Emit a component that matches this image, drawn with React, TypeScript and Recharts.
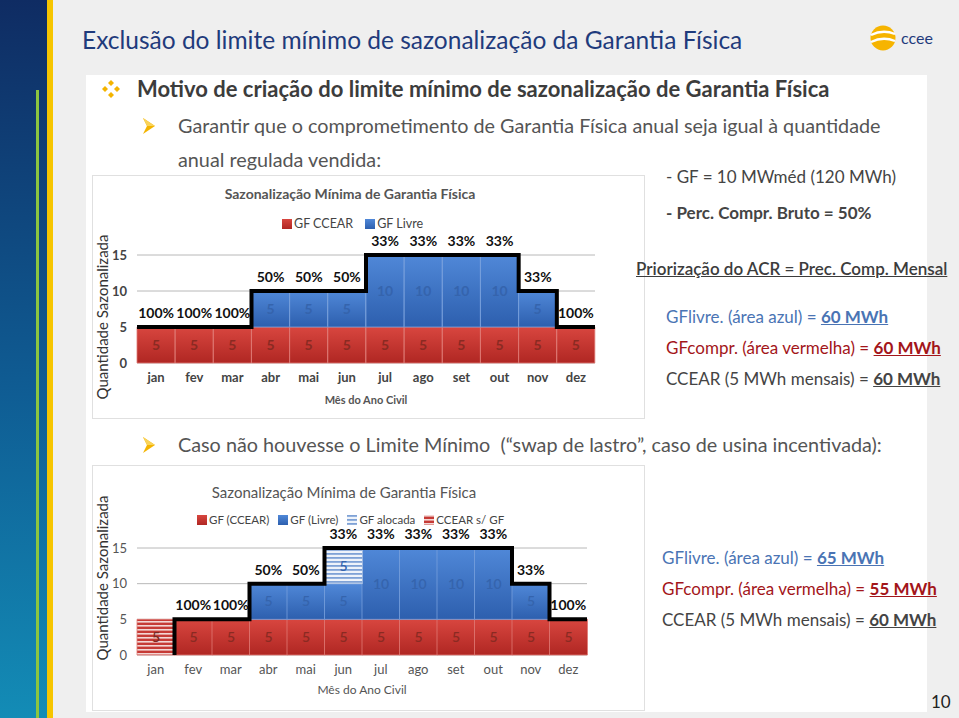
import React from 'react'
import { ComposedChart, Bar, Line, XAxis, YAxis, CartesianGrid, LabelList, Legend } from 'recharts'

const MONTHS = ['jan', 'fev', 'mar', 'abr', 'mai', 'jun', 'jul', 'ago', 'set', 'out', 'nov', 'dez']
const Y_TICKS = [0, 5, 10, 15]

// chart 1: com limite mínimo
const CCEAR_1 = [5, 5, 5, 5, 5, 5, 5, 5, 5, 5, 5, 5]
const LIVRE_1 = [0, 0, 0, 5, 5, 5, 10, 10, 10, 10, 5, 0]
const PCT_1 = ['100%', '100%', '100%', '50%', '50%', '50%', '33%', '33%', '33%', '33%', '33%', '100%']

// chart 2: sem o limite mínimo
const CCEAR_2 = [0, 5, 5, 5, 5, 5, 5, 5, 5, 5, 5, 5]
const LIVRE_2 = [0, 0, 0, 5, 5, 5, 10, 10, 10, 10, 5, 0]
const ALOCADA_2 = [0, 0, 0, 0, 0, 5, 0, 0, 0, 0, 0, 0]
const SEM_GF_2 = [5, 0, 0, 0, 0, 0, 0, 0, 0, 0, 0, 0]
const PCT_2 = ['', '100%', '100%', '50%', '50%', '33%', '33%', '33%', '33%', '33%', '33%', '100%']

const FONT = 'Lato, "Open Sans", sans-serif'

const rows1 = MONTHS.map((m, i) => ({
  month: m,
  ccear: CCEAR_1[i],
  livre: LIVRE_1[i],
  top: CCEAR_1[i] + LIVRE_1[i],
  pct: PCT_1[i],
}))

const rows2 = MONTHS.map((m, i) => ({
  month: m,
  ccear: CCEAR_2[i],
  livre: LIVRE_2[i],
  alocada: ALOCADA_2[i],
  semGf: SEM_GF_2[i],
  top: CCEAR_2[i] + LIVRE_2[i] + ALOCADA_2[i],
  pct: PCT_2[i],
}))

// step outline: points at the right edge of every month (stepBefore),
// starting at the left edge only when the first month has committed GF
function stepPoints(totals: number[]) {
  const pts = totals.map((v, i) => ({ x: i + 1, v }))
  return totals[0] > 0 ? [{ x: 0, v: totals[0] }, ...pts] : pts
}
const step1 = stepPoints(rows1.map((r) => r.top))
const step2 = stepPoints(rows2.map((r) => r.top))

const hideZero = (v: any) => (v ? v : '')

function T({ x, y, size = 17, children, style }: any) {
  return (
    <div
      style={{
        position: 'absolute',
        left: x,
        top: y - size / 2 - 1,
        fontSize: size,
        lineHeight: `${size + 2}px`,
        whiteSpace: 'nowrap',
        fontFamily: FONT,
        color: '#444',
        ...style,
      }}
    >
      {children}
    </div>
  )
}

function Arrow({ x, y }: { x: number; y: number }) {
  return (
    <svg style={{ position: 'absolute', left: x, top: y - 8 }} width={12} height={16}>
      <polygon points="0,0 12,8 0,16 4,8" fill="#f4b400" />
      <polygon points="0,0 12,8 4,8" fill="#f9d35a" />
    </svg>
  )
}

function LegendBox({ payload, order, fontSize, gap }: any) {
  const items = (payload || [])
    .filter((p: any) => p.type !== 'none')
    .sort((a: any, b: any) => order.indexOf(a.value) - order.indexOf(b.value))
  return (
    <div style={{ display: 'flex', gap, fontFamily: FONT, fontSize, color: '#444', whiteSpace: 'nowrap' }}>
      {items.map((p: any) => (
        <span key={p.value} style={{ display: 'flex', alignItems: 'center', gap: 2 }}>
          <svg width={10} height={10}>
            <rect width={10} height={10} fill={p.color} />
          </svg>
          {p.value}
        </span>
      ))}
    </div>
  )
}

function Defs({ p }: { p: string }) {
  return (
    <defs>
      <linearGradient id={`${p}red`} x1="0" y1="0" x2="0" y2="1">
        <stop offset="0%" stopColor="#d8463f" />
        <stop offset="100%" stopColor="#b02723" />
      </linearGradient>
      <linearGradient id={`${p}blue`} x1="0" y1="0" x2="0" y2="1">
        <stop offset="0%" stopColor="#5088d8" />
        <stop offset="100%" stopColor="#2d5fae" />
      </linearGradient>
      <pattern id={`${p}redHatch`} width={6} height={4} patternUnits="userSpaceOnUse">
        <rect width={6} height={4} fill="#c63a35" />
        <rect y={0} width={6} height={1.6} fill="#f3d6d4" />
      </pattern>
      <pattern id={`${p}blueHatch`} width={6} height={4} patternUnits="userSpaceOnUse">
        <rect width={6} height={4} fill="#eef3fa" />
        <rect y={0} width={6} height={1.8} fill="#7fa2d6" />
      </pattern>
    </defs>
  )
}

const boldTick = { fontSize: 13, fontWeight: 700, fill: '#444', fontFamily: FONT }
const plainTick = { fontSize: 13, fill: '#555', fontFamily: FONT }

const ORDER_1 = ['GF CCEAR', 'GF Livre']
const ORDER_2 = ['GF (CCEAR)', 'GF (Livre)', 'GF alocada', 'CCEAR s/ GF']

function Chart1() {
  return (
    <ComposedChart
      width={553}
      height={244}
      data={rows1}
      margin={{ top: 65, right: 50, bottom: 26, left: 5 }}
      barCategoryGap={0}
      barGap={0}
    >
      <Defs p="c1" />
      <CartesianGrid vertical={false} stroke="#b8b8b8" />
      <XAxis dataKey="month" axisLine={false} tickLine={false} tickSize={0} tickMargin={10} height={30} tick={boldTick} interval={0} />
      <XAxis xAxisId="step" type="number" dataKey="x" domain={[0, 12]} hide />
      <YAxis domain={[0, 15]} ticks={Y_TICKS} axisLine={false} tickLine={false} tickSize={0} tickMargin={10} width={40} tick={boldTick} />
      <Legend
        verticalAlign="top"
        content={(props: any) => <LegendBox {...props} order={ORDER_1} fontSize={12.5} gap={12} />}
        wrapperStyle={{ top: 41, left: 190, width: 'auto' }}
      />
      <Bar dataKey="ccear" name="GF CCEAR" stackId="a" fill="url(#c1red)" stroke="#e07a75" strokeWidth={0.8} isAnimationActive={false}>
        <LabelList dataKey="ccear" position="center" formatter={hideZero} fill="#8a2a22" fontSize={14} fontWeight={700} fontFamily={FONT} />
      </Bar>
      <Bar dataKey="livre" name="GF Livre" stackId="a" fill="url(#c1blue)" stroke="#77a0dc" strokeWidth={0.8} isAnimationActive={false}>
        <LabelList dataKey="livre" position="center" formatter={hideZero} fill="#3564ad" fontSize={14} fontWeight={700} fontFamily={FONT} />
      </Bar>
      <Line xAxisId="step" data={step1} dataKey="v" type="stepBefore" stroke="#000" strokeWidth={4} dot={false} legendType="none" isAnimationActive={false} />
      <Line dataKey="top" stroke="none" dot={false} legendType="none" isAnimationActive={false}>
        <LabelList dataKey="pct" position="top" offset={9} fill="#111" fontSize={14} fontWeight={700} fontFamily={FONT} />
      </Line>
    </ComposedChart>
  )
}

function Chart2() {
  return (
    <ComposedChart
      width={553}
      height={246}
      data={rows2}
      margin={{ top: 70, right: 58, bottom: 26, left: 5 }}
      barCategoryGap={0}
      barGap={0}
    >
      <Defs p="c2" />
      <CartesianGrid vertical={false} stroke="#b8b8b8" />
      <XAxis dataKey="month" axisLine={false} tickLine={false} tickSize={0} tickMargin={10} height={30} tick={plainTick} interval={0} />
      <XAxis xAxisId="step" type="number" dataKey="x" domain={[0, 12]} hide />
      <YAxis domain={[0, 15]} ticks={Y_TICKS} axisLine={false} tickLine={false} tickSize={0} tickMargin={10} width={40} tick={plainTick} />
      <Legend
        verticalAlign="top"
        content={(props: any) => <LegendBox {...props} order={ORDER_2} fontSize={11.5} gap={9} />}
        wrapperStyle={{ top: 48, left: 105, width: 'auto' }}
      />
      <Bar dataKey="ccear" name="GF (CCEAR)" stackId="a" fill="url(#c2red)" stroke="#e07a75" strokeWidth={0.8} isAnimationActive={false}>
        <LabelList dataKey="ccear" position="center" formatter={hideZero} fill="#8a2a22" fontSize={14} fontWeight={600} fontFamily={FONT} />
      </Bar>
      <Bar dataKey="livre" name="GF (Livre)" stackId="a" fill="url(#c2blue)" stroke="#77a0dc" strokeWidth={0.8} isAnimationActive={false}>
        <LabelList dataKey="livre" position="center" formatter={hideZero} fill="#3564ad" fontSize={14} fontWeight={600} fontFamily={FONT} />
      </Bar>
      <Bar dataKey="alocada" name="GF alocada" stackId="a" fill="url(#c2blueHatch)" stroke="#9db8e0" strokeWidth={0.8} isAnimationActive={false}>
        <LabelList dataKey="alocada" position="center" formatter={hideZero} fill="#3564ad" fontSize={14} fontWeight={600} fontFamily={FONT} />
      </Bar>
      <Bar dataKey="semGf" name="CCEAR s/ GF" stackId="a" fill="url(#c2redHatch)" stroke="#e07a75" strokeWidth={0.8} isAnimationActive={false}>
        <LabelList dataKey="semGf" position="center" formatter={hideZero} fill="#7a2a22" fontSize={14} fontWeight={600} fontFamily={FONT} />
      </Bar>
      <Line xAxisId="step" data={step2} dataKey="v" type="stepBefore" stroke="#000" strokeWidth={4} dot={false} legendType="none" isAnimationActive={false} />
      <Line dataKey="top" stroke="none" dot={false} legendType="none" isAnimationActive={false}>
        <LabelList dataKey="pct" position="top" offset={9} fill="#111" fontSize={14} fontWeight={700} fontFamily={FONT} />
      </Line>
    </ComposedChart>
  )
}

function YTitle({ cx, cy }: { cx: number; cy: number }) {
  return (
    <div
      style={{
        position: 'absolute',
        left: cx - 90,
        top: cy - 10,
        width: 180,
        height: 20,
        lineHeight: '20px',
        textAlign: 'center',
        transform: 'rotate(-90deg)',
        fontFamily: FONT,
        fontSize: 15,
        color: '#333',
        whiteSpace: 'nowrap',
      }}
    >
      Quantidade Sazonalizada
    </div>
  )
}

function Centered({ cx, y, size, bold, children }: any) {
  return (
    <div
      style={{
        position: 'absolute',
        left: cx - 200,
        width: 400,
        top: y - size / 2 - 1,
        lineHeight: `${size + 2}px`,
        textAlign: 'center',
        fontFamily: FONT,
        fontSize: size,
        fontWeight: bold ? 700 : 400,
        color: '#555',
      }}
    >
      {children}
    </div>
  )
}

const u = { textDecoration: 'underline', fontWeight: 700 }

export default function App() {
  return (
    <div
      style={{
        position: 'absolute',
        left: 0,
        top: 0,
        width: 959,
        height: 718,
        overflow: 'hidden',
        background: '#efefef',
        fontFamily: FONT,
      }}
    >
      {/* left band */}
      <div style={{ position: 'absolute', left: 0, top: 0, width: 47, height: 718, background: 'linear-gradient(#0f2c63, #0f5d94 55%, #138cb6)' }} />
      <div style={{ position: 'absolute', left: 47, top: 0, width: 6, height: 718, background: '#f6c500' }} />
      <div style={{ position: 'absolute', left: 36, top: 90, width: 3, height: 628, background: '#8cc540' }} />

      {/* white content panel */}
      <div style={{ position: 'absolute', left: 86, top: 75, width: 841, height: 637, background: '#fff' }} />

      <T x={82} y={40} size={24.5} style={{ color: '#1f3b7c' }}>
        Exclusão do limite mínimo de sazonalização da Garantia Física
      </T>

      {/* logo */}
      <svg style={{ position: 'absolute', left: 868, top: 24 }} width={70} height={30}>
        <circle cx={15} cy={14} r={12.5} fill="#f6b400" />
        <path d="M3 11 Q15 5 27 10" stroke="#fff" strokeWidth={2.3} fill="none" />
        <path d="M3 18 Q15 12 27 17" stroke="#fff" strokeWidth={2.3} fill="none" />
        <text x={33} y={20} fontSize={16} fill="#1f3b7c" fontFamily={FONT}>ccee</text>
      </svg>

      {/* bullets */}
      <svg style={{ position: 'absolute', left: 102, top: 80 }} width={18} height={18}>
        <polygon points="9,0 12,3 9,6 6,3" fill="#f4b400" />
        <polygon points="3,6 6,9 3,12 0,9" fill="#f4b400" />
        <polygon points="15,6 18,9 15,12 12,9" fill="#f4b400" />
        <polygon points="9,12 12,15 9,18 6,15" fill="#f4b400" />
      </svg>
      <T x={137} y={89} size={22} style={{ fontWeight: 700, color: '#3c3c3c' }}>
        Motivo de criação do limite mínimo de sazonalização de Garantia Física
      </T>
      <Arrow x={143} y={126} />
      <T x={178} y={126} size={19.8} style={{ color: '#555' }}>
        Garantir que o comprometimento de Garantia Física anual seja igual à quantidade
      </T>
      <T x={178} y={160} size={19.8} style={{ color: '#555' }}>
        anual regulada vendida:
      </T>

      {/* chart 1 */}
      <div style={{ position: 'absolute', left: 92, top: 175, width: 553, height: 244, background: '#fff', border: '1px solid #e0e0e0', boxSizing: 'border-box' }} />
      <div style={{ position: 'absolute', left: 92, top: 175 }}>
        <Chart1 />
      </div>
      <Centered cx={350} y={194} size={14} bold>
        Sazonalização Mínima de Garantia Física
      </Centered>
      <Centered cx={366} y={399} size={11} bold>
        Mês do Ano Civil
      </Centered>
      <YTitle cx={102} cy={317} />

      <T x={666} y={176} size={17}>- GF = 10 MWméd (120 MWh)</T>
      <T x={666} y={212} size={17} style={{ fontWeight: 700 }}>- Perc. Compr. Bruto = 50%</T>
      <T x={636} y={268} size={17} style={{ fontWeight: 600, textDecoration: 'underline', color: '#3c3c3c' }}>
        Priorização do ACR = Prec. Comp. Mensal
      </T>
      <T x={666} y={316} size={17} style={{ color: '#4a74b4' }}>
        GFlivre. (área azul) = <span style={u}>60 MWh</span>
      </T>
      <T x={666} y={347} size={17} style={{ color: '#a3151a' }}>
        GFcompr. (área vermelha) = <span style={u}>60 MWh</span>
      </T>
      <T x={666} y={378} size={17}>
        CCEAR (5 MWh mensais) = <span style={u}>60 MWh</span>
      </T>

      <Arrow x={143} y={445} />
      <T x={178} y={445} size={19.8} style={{ color: '#555' }}>
        Caso não houvesse o Limite Mínimo&nbsp; (“swap de lastro”, caso de usina incentivada):
      </T>

      {/* chart 2 */}
      <div style={{ position: 'absolute', left: 92, top: 465, width: 553, height: 246, background: '#fff', border: '1px solid #e0e0e0', boxSizing: 'border-box' }} />
      <div style={{ position: 'absolute', left: 92, top: 465 }}>
        <Chart2 />
      </div>
      <Centered cx={344} y={492} size={15}>
        Sazonalização Mínima de Garantia Física
      </Centered>
      <Centered cx={362} y={690} size={12}>
        Mês do Ano Civil
      </Centered>
      <YTitle cx={102} cy={578} />

      <T x={662} y={557} size={17} style={{ color: '#4a74b4' }}>
        GFlivre. (área azul) = <span style={u}>65 MWh</span>
      </T>
      <T x={662} y={588} size={17} style={{ color: '#a3151a' }}>
        GFcompr. (área vermelha) = <span style={u}>55 MWh</span>
      </T>
      <T x={662} y={619} size={17}>
        CCEAR (5 MWh mensais) = <span style={u}>60 MWh</span>
      </T>

      <T x={931} y={701} size={17} style={{ color: '#222' }}>10</T>
    </div>
  )
}
